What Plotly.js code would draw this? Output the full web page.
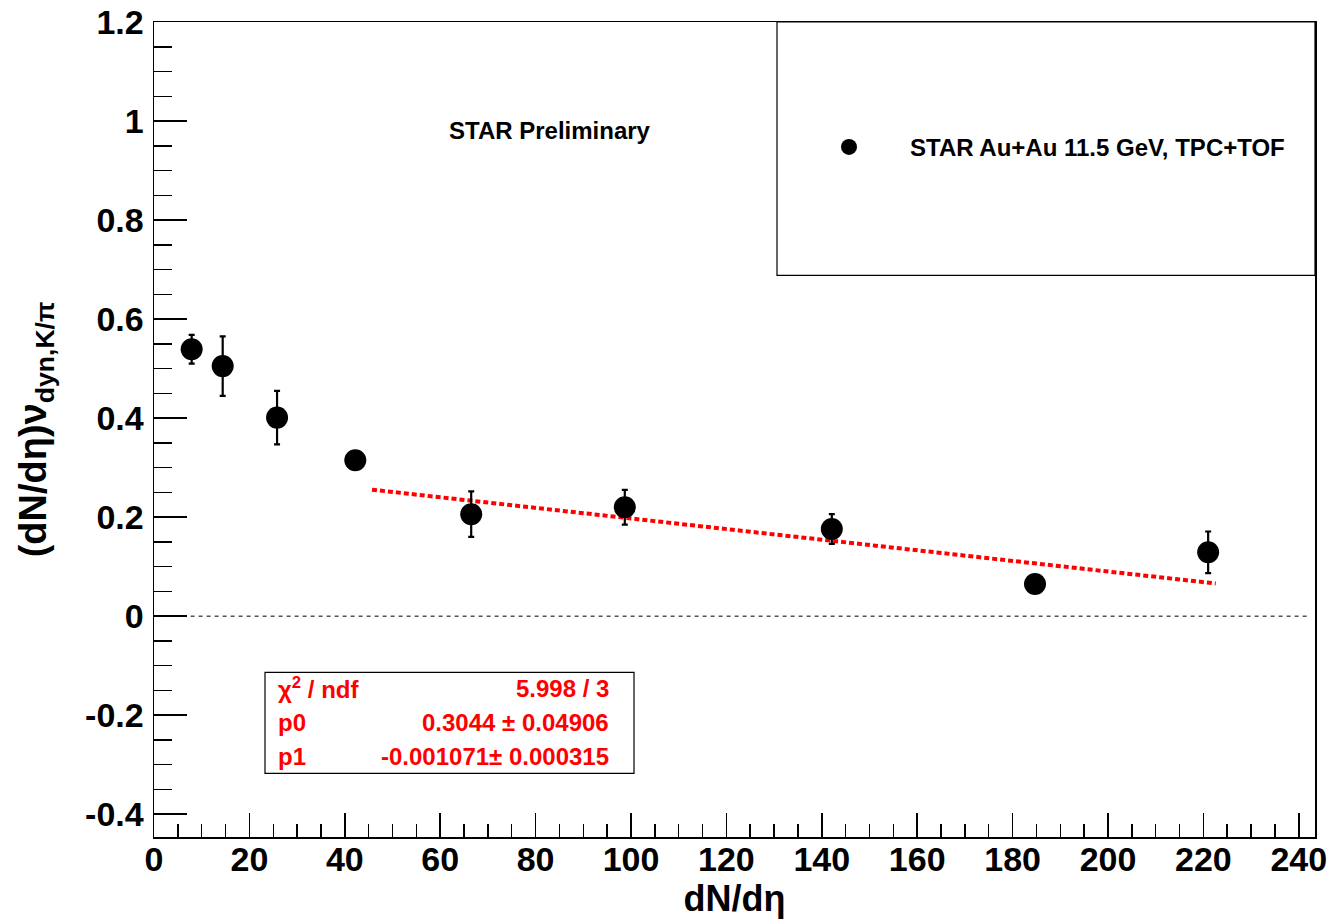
<!DOCTYPE html>
<html>
<head>
<meta charset="utf-8">
<script src="https://cdn.plot.ly/plotly-3.0.1.min.js"></script>
<style>
html,body{margin:0;padding:0;background:#fff;}
#chart{width:1332px;height:919px;}
</style>
</head>
<body>
<div id="chart"></div>
<script>
// ---- data ----
const dNdEta = [7.9, 14.4, 25.8, 42.2, 66.5, 98.7, 142.1, 184.7, 221.0];
const nuDyn = [0.539, 0.505, 0.401, 0.315, 0.206, 0.220, 0.176, 0.065, 0.129];
const nuDynErr = [0.029, 0.060, 0.054, 0.015, 0.046, 0.035, 0.030, 0.015, 0.042];

// linear fit shown on the figure (pol1)
const fitP0 = 0.3044;
const fitP1 = -0.001071;
const fitXRange = [45.7, 222.6];

// stats box
const statLabels = ["χ<sup>2</sup> / ndf", "p0", "p1"];
const statValues = ["5.998 / 3", "0.3044 ± 0.04906", "-0.001071± 0.000315"];

// axis ticks
const xTickVals = [0, 20, 40, 60, 80, 100, 120, 140, 160, 180, 200, 220, 240];
const yTickVals = [-0.4, -0.2, 0, 0.2, 0.4, 0.6, 0.8, 1, 1.2];
const yTickLabels = ["-0.4", "-0.2", "0", "0.2", "0.4", "0.6", "0.8", "1", "1.2"];

const legendLabel = "STAR Au+Au 11.5 GeV, TPC+TOF";
const watermark = "STAR Preliminary";

const FONT = "Liberation Sans, Arial, Helvetica, sans-serif";

const fitY = fitXRange.map(x => fitP0 + fitP1 * x);

const traces = [
  {
    type: "scatter",
    mode: "lines",
    x: fitXRange,
    y: fitY,
    line: {color: "#ff0000", width: 4, dash: "5px,3px"},
    showlegend: false,
    hoverinfo: "skip"
  },
  {
    type: "scatter",
    mode: "markers",
    name: legendLabel,
    x: dNdEta,
    y: nuDyn,
    marker: {color: "#000000", size: 22, symbol: "circle"},
    error_y: {type: "data", array: nuDynErr, visible: true, color: "#000000", thickness: 2.2, width: 3},
    showlegend: true
  }
];

const statYs = [0.1825, 0.1407, 0.099];
const annotations = [
  {
    xref: "paper", yref: "paper", x: (550 - 154) / 1161, y: (836.7 - 130) / 815,
    text: watermark, showarrow: false, xanchor: "center", yanchor: "middle",
    font: {family: FONT, size: 24, color: "#000", weight: "bold"}
  }
];
statLabels.forEach((t, i) => {
  annotations.push({
    xref: "paper", yref: "paper", x: (276 - 154) / 1161, y: statYs[i],
    text: t, showarrow: false, xanchor: "left", yanchor: "middle",
    font: {family: FONT, size: 24, color: "#ff0000", weight: "bold"}
  });
  annotations.push({
    xref: "paper", yref: "paper", x: (611 - 154) / 1161, y: statYs[i],
    text: statValues[i], showarrow: false, xanchor: "right", yanchor: "middle",
    font: {family: FONT, size: 24, color: "#ff0000", weight: "bold"}
  });
});

const shapes = [
  // zero line
  {type: "line", xref: "paper", yref: "y", x0: 0.004, x1: 0.995, y0: 0, y1: 0,
   line: {color: "#000", width: 1, dash: "4px,4px"}},
  // legend box
  {type: "rect", xref: "paper", yref: "paper", x0: (777 - 154) / 1161, x1: 1, y0: (836.7 - 275) / 815, y1: 1,
   line: {color: "#000", width: 1.2}, fillcolor: "rgba(0,0,0,0)"},
  // stats box
  {type: "rect", xref: "paper", yref: "paper", x0: (265 - 154) / 1161, x1: (634 - 154) / 1161,
   y0: (836.7 - 773) / 815, y1: (836.7 - 672) / 815,
   line: {color: "#000", width: 1.2}, fillcolor: "rgba(0,0,0,0)"}
];

const layout = {
  width: 1332, height: 919,
  margin: {l: 154, r: 17, t: 22, b: 82},
  paper_bgcolor: "#fff", plot_bgcolor: "#fff",
  font: {family: FONT, color: "#000"},
  showlegend: true,
  legend: {
    x: (788 - 154) / 1161, y: (836.7 - 147) / 815, xanchor: "left", yanchor: "middle",
    bgcolor: "rgba(0,0,0,0)", borderwidth: 0,
    itemwidth: 112, itemsizing: "trace",
    font: {family: FONT, size: 24, color: "#000", weight: "bold"}
  },
  xaxis: {
    range: [0, 243.4],
    tickmode: "array", tickvals: xTickVals,
    ticks: "inside", ticklen: 24, tickwidth: 1.5, tickcolor: "#000",
    minor: {dtick: 5, tick0: 0, ticks: "inside", ticklen: 13, tickwidth: 1.5, tickcolor: "#000"},
    showline: true, mirror: true, linecolor: "#000", linewidth: 1.5,
    showgrid: false, zeroline: false,
    tickfont: {family: FONT, size: 34, color: "#000", weight: "bold"},
    ticklabelstandoff: -8,
    title: {text: "dN/dη", font: {family: FONT, size: 36, color: "#000", weight: "bold"}, standoff: 12}
  },
  yaxis: {
    range: [-0.446, 1.2],
    tickmode: "array", tickvals: yTickVals, ticktext: yTickLabels,
    ticks: "inside", ticklen: 33, tickwidth: 1.5, tickcolor: "#000",
    minor: {dtick: 0.05, tick0: 0, ticks: "inside", ticklen: 18, tickwidth: 1.5, tickcolor: "#000"},
    showline: true, mirror: true, linecolor: "#000", linewidth: 1.5,
    showgrid: false, zeroline: false,
    tickfont: {family: FONT, size: 34, color: "#000", weight: "bold"},
    ticklabelstandoff: 2,
    title: {text: "(dN/dη)ν<sub>dyn,K/π</sub>", font: {family: FONT, size: 38, color: "#000", weight: "bold"}, standoff: 27}
  },
  shapes: shapes,
  annotations: annotations
};

Plotly.newPlot("chart", traces, layout, {displayModeBar: false, staticPlot: true});
</script>
</body>
</html>
